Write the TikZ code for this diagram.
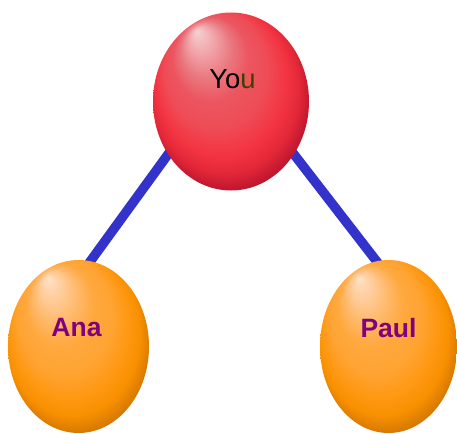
\documentclass[tikz,border=0pt]{standalone}
\usepackage{fontspec}
\setmainfont{Liberation Sans}
\usetikzlibrary{shapes.geometric,backgrounds}

% palette
\definecolor{linkblue}{HTML}{3333CC}
\definecolor{namepurple}{HTML}{800080}
\definecolor{youolive}{HTML}{404000}

\definecolor{redA}{HTML}{F6D0D2}
\definecolor{redB}{HTML}{F2B0B4}
\definecolor{redC}{HTML}{EA7880}
\definecolor{redD}{HTML}{EC5660}
\definecolor{redE}{HTML}{EE4C56}
\definecolor{redF}{HTML}{F33442}
\definecolor{redG}{HTML}{E42838}
\definecolor{redH}{HTML}{C41830}
\definecolor{redI}{HTML}{A01020}

\definecolor{orA}{HTML}{FFE2C6}
\definecolor{orB}{HTML}{FFD0A4}
\definecolor{orC}{HTML}{FFB868}
\definecolor{orD}{HTML}{FFA83E}
\definecolor{orE}{HTML}{FFA434}
\definecolor{orF}{HTML}{FF9812}
\definecolor{orG}{HTML}{F89000}
\definecolor{orH}{HTML}{DC7C00}
\definecolor{orI}{HTML}{B46400}

% glossy spheres lit from the upper left
\pgfdeclareradialshading{redsphere}{\pgfpoint{-11bp}{20bp}}{%
  color(0bp)=(redA); color(3bp)=(redB); color(8bp)=(redC);
  color(12bp)=(redD); color(16.5bp)=(redE); color(21bp)=(redF);
  color(24bp)=(redG); color(26.5bp)=(redH); color(30bp)=(redI)}
\pgfdeclareradialshading{orangesphere}{\pgfpoint{-11bp}{20bp}}{%
  color(0bp)=(orA); color(3bp)=(orB); color(8bp)=(orC);
  color(12bp)=(orD); color(16.5bp)=(orE); color(21bp)=(orF);
  color(24bp)=(orG); color(26.5bp)=(orH); color(30bp)=(orI)}

\tikzset{
  sphere/.style={ellipse, draw=none, inner sep=0pt},
  link/.style={linkblue, line width=9.5pt, shorten <=-5pt, shorten >=-5pt},
  namefont/.style={font=\fontsize{26.5}{30}\selectfont\bfseries, text=namepurple},
}

\begin{document}
\begin{tikzpicture}[x=1pt, y=-1pt]
  \useasboundingbox (0,0) rectangle (457,433);

  \node[sphere, shading=redsphere, minimum width=156pt, minimum height=178pt,
        label={[font=\fontsize{27.5}{30}\selectfont, xshift=1.5pt, yshift=22.5pt]center:Yo\textcolor{youolive}{u}}]
        (you) at (231,101.5) {};
  \node[sphere, shading=orangesphere, minimum width=141pt, minimum height=173pt,
        label={[namefont, xshift=-2pt, yshift=18.5pt]center:Ana}]
        (ana) at (78.5,346.5) {};
  \node[sphere, shading=orangesphere, minimum width=137pt, minimum height=173pt,
        label={[namefont, yshift=18.5pt]center:Paul}]
        (paul) at (388.5,346.5) {};

  \begin{scope}[on background layer]
    \draw[link] (you.220) -- (ana.82);
    \draw[link] (you.320) -- (paul.98);
  \end{scope}
\end{tikzpicture}
\end{document}
